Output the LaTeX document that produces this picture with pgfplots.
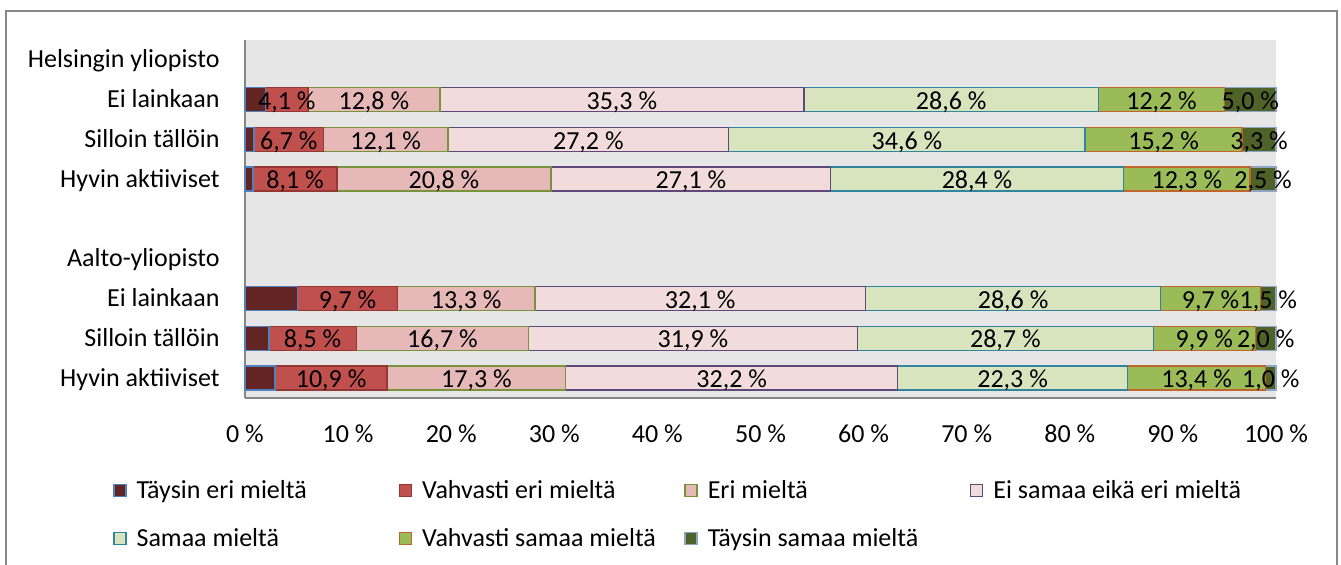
\documentclass[border=0pt]{standalone}
\usepackage{pgfplots}
\pgfplotsset{compat=1.18}
\usepackage{pgfplotstable}
\usepackage{fontspec}
\setmainfont{Carlito}
\definecolor{f1}{HTML}{632523}\definecolor{d1}{HTML}{4F81BD}
\definecolor{f2}{HTML}{C0504D}\definecolor{d2}{HTML}{953735}
\definecolor{f3}{HTML}{E6B9B8}\definecolor{d3}{HTML}{77933C}
\definecolor{f4}{HTML}{F2DCDB}\definecolor{d4}{HTML}{5F497A}
\definecolor{f5}{HTML}{D7E4BD}\definecolor{d5}{HTML}{31859C}
\definecolor{f6}{HTML}{9BBB59}\definecolor{d6}{HTML}{C0662B}
\definecolor{f7}{HTML}{4F6228}\definecolor{d7}{HTML}{8EA5C4}
\definecolor{plotbg}{HTML}{E6E6E6}
\definecolor{axisgray}{HTML}{868686}
\definecolor{framegray}{HTML}{878787}

% y: 9 Helsingin yliopisto (header), 8-6 its rows, 5 blank, 4 Aalto-yliopisto (header), 3-1 its rows
\pgfplotstableread{
y  t1   t2    t3    t4    t5    t6    t7
8  2.0  4.1   12.8  35.3  28.6  12.2  5.0
7  0.9  6.7   12.1  27.2  34.6  15.2  3.3
6  0.8  8.1   20.8  27.1  28.4  12.3  2.5
3  5.1  9.7   13.3  32.1  28.6  9.7   1.5
2  2.3  8.5   16.7  31.9  28.7  9.9   2.0
1  2.9  10.9  17.3  32.2  22.3  13.4  1.0
}\data

\pgfplotsset{
  lbl/.style={
    point meta=explicit symbolic,
    nodes near coords={\pgfmathprintnumber[fixed,fixed zerofill,precision=1,use comma]{\pgfplotspointmeta}~\%},
    every node near coord/.append style={anchor=base, inner sep=0pt, text=black, yshift=-4.8pt},
  },
}

\begin{document}
\fontsize{13}{15.6}\selectfont
\begin{tikzpicture}
\path[use as bounding box] (0,0) rectangle (670.5pt,-282pt);
\begin{axis}[
  at={(122.5pt,-199pt)}, anchor=south west,
  scale only axis, width=515.5pt, height=179pt,
  font=\fontsize{13}{15.6}\selectfont,
  xbar stacked, bar width=12pt,
  xmin=0, xmax=100, ymin=0.5, ymax=9.5,
  xtick={0,10,...,100},
  xticklabel={\pgfmathprintnumber{\tick}~\%},
  ytick={1,...,9},
  yticklabels={Hyvin aktiiviset, Silloin tällöin, Ei lainkaan, Aalto-yliopisto, {}, Hyvin aktiiviset, Silloin tällöin, Ei lainkaan, Helsingin yliopisto},
  axis lines*=left,
  axis line style={draw=axisgray, line width=0.75pt},
  major tick length=0pt,
  axis background/.style={fill=plotbg},
  clip=false,
  /pgf/number format/assume math mode=true,
  xticklabel style={anchor=base, inner sep=0pt, yshift=-22pt, text=black},
  yticklabel style={anchor=base east, inner sep=0pt, xshift=-12.5pt, yshift=-4pt, text=black},
  legend columns=4,
  legend cell align=left,
  legend style={at={(0,0)}, anchor=north west, xshift=-66pt, yshift=-42pt,
    draw=none, fill=none, inner sep=0pt, outer sep=0pt, column sep=0pt, row sep=15.6pt,
    nodes={inner sep=0pt, text height=8.4pt, text depth=0pt, anchor=west}},
  legend image code/.code={\draw[#1, line width=0.8pt] (0pt,-3pt) rectangle (6pt,3pt);},
  every axis plot/.append style={line width=0.8pt},
]
\addplot[fill=f1, draw=d1] table[x=t1, y=y] {\data};
\addlegendentry{\makebox[136pt][l]{\hspace{5pt}Täysin eri mieltä}}
\addplot[fill=f2, draw=d2, lbl] table[x=t2, y=y, meta=t2] {\data};
\addlegendentry{\makebox[136pt][l]{\hspace{5pt}Vahvasti eri mieltä}}
\addplot[fill=f3, draw=d3, lbl] table[x=t3, y=y, meta=t3] {\data};
\addlegendentry{\makebox[136pt][l]{\hspace{5pt}Eri mieltä}}
\addplot[fill=f4, draw=d4, lbl] table[x=t4, y=y, meta=t4] {\data};
\addlegendentry{\makebox[136pt][l]{\hspace{5pt}Ei samaa eikä eri mieltä}}
\addplot[fill=f5, draw=d5, lbl] table[x=t5, y=y, meta=t5] {\data};
\addlegendentry{\makebox[136pt][l]{\hspace{5pt}Samaa mieltä}}
\addplot[fill=f6, draw=d6, lbl] table[x=t6, y=y, meta=t6] {\data};
\addlegendentry{\makebox[136pt][l]{\hspace{5pt}Vahvasti samaa mieltä}}
\addplot[fill=f7, draw=d7, lbl] table[x=t7, y=y, meta=t7] {\data};
\addlegendentry{\makebox[136pt][l]{\hspace{5pt}Täysin samaa mieltä}}
\end{axis}
\draw[framegray, line width=0.75pt] (3pt,-5.5pt) rectangle (668.5pt,-300pt);
\end{tikzpicture}
\end{document}
